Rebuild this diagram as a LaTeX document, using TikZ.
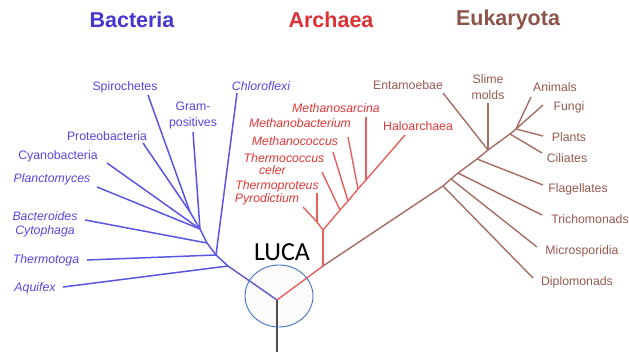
\documentclass[tikz,border=0pt]{standalone}
\usepackage{fontspec}
\setmainfont{Liberation Sans}
\newfontfamily\lucafont{Carlito}
\definecolor{bacline}{RGB}{90,85,228}
\definecolor{bactext}{RGB}{85,70,225}
\definecolor{bactitle}{RGB}{70,55,210}
\definecolor{arcline}{RGB}{230,95,95}
\definecolor{arctext}{RGB}{225,55,55}
\definecolor{arctitle}{RGB}{220,50,55}
\definecolor{eukline}{RGB}{165,110,100}
\definecolor{euktext}{RGB}{150,90,80}
\definecolor{euktitle}{RGB}{140,85,75}
\definecolor{lucablue}{RGB}{68,114,196}
\tikzset{
  bl/.style={draw=bacline, line width=1.5pt},
  al/.style={draw=arcline, line width=1.4pt},
  el/.style={draw=eukline, line width=1.4pt},
  lab/.style={inner sep=0pt, font=\fontsize{12.3}{13}\selectfont, align=center},
  ilab/.style={font=\fontsize{12.3}{13}\selectfont\itshape},
  blab/.style={lab, text=bactext},
  alab/.style={lab, text=arctext},
  elab/.style={lab, text=euktext},
  ttl/.style={inner sep=0pt, font=\fontsize{21.5}{24}\selectfont\bfseries},
}
\begin{document}
\begin{tikzpicture}[x=1pt,y=-1pt]
\useasboundingbox (0,0) rectangle (629,352);
% LUCA ellipse fill
\fill[gray!3] (279,296) ellipse [x radius=34, y radius=31];
% titles
\node[ttl, text=bactitle] (tB) at (132,20) {Bacteria};
\node[ttl, text=arctitle] (tA) at (331,20) {Archaea};
\node[ttl, text=euktitle] (tE) at (508,20) {Eukaryota};
\node[inner sep=0pt, font=\lucafont\fontsize{26}{28}\selectfont] (luca) at (282,252) {LUCA};
% junctions
\coordinate (R) at (277,300);
\coordinate (base) at (277,352);
\coordinate (bA) at (228,266);
\coordinate (bT) at (216,255);
\coordinate (bB) at (207,243);
\coordinate (bG) at (200,229);
\coordinate (bP) at (190,212);
\coordinate (aE) at (323,266);
\coordinate (aN) at (323,230);
\coordinate (aP) at (317,222);
\coordinate (a1) at (340,210);
\coordinate (a2) at (348,201);
\coordinate (a3) at (358,189);
\coordinate (a4) at (366,180);
\coordinate (e1) at (443,186);
\coordinate (e2) at (451,179);
\coordinate (e3) at (458,173);
\coordinate (e4) at (477,159);
\coordinate (e5) at (488,150);
\coordinate (e6) at (510,134);
\coordinate (e7) at (516,129);
% leaf ends
\coordinate (lAq) at (63,287);
\coordinate (lTh) at (87,260);
\coordinate (lBa) at (85,220);
\coordinate (lPl) at (97,187);
\coordinate (lCy) at (107,163);
\coordinate (lPr) at (143,143);
\coordinate (lSp) at (148,95);
\coordinate (lGr) at (193,132);
\coordinate (lCh) at (237,93);
\coordinate (lPy) at (303,207);
\coordinate (lTp) at (317,193);
\coordinate (lTc) at (322,172);
\coordinate (lMc) at (333,152);
\coordinate (lMb) at (348,137);
\coordinate (lMs) at (366,117);
\coordinate (lHa) at (405,135);
\coordinate (lDi) at (533,278);
\coordinate (lMi) at (537,247);
\coordinate (lTr) at (542,215);
\coordinate (lFl) at (543,185);
\coordinate (lCi) at (542,153);
\coordinate (lPa) at (543,136);
\coordinate (lFu) at (543,105);
\coordinate (lAn) at (531,97);
\coordinate (lSl) at (488,103);
\coordinate (lEn) at (443,93);
% trunk
\draw[draw=black!70, line width=1.6pt] (R) -- (base);
% bacteria
\draw[bl, draw=bacline!75!gray] (R) -- (bA);
\draw[bl] (bA) -- (bT) -- (bB) -- (bG) -- (bP);
\draw[bl] (bA) -- (lAq);
\draw[bl] (bT) -- (lTh);
\draw[bl] (bT) -- (lCh);
\draw[bl] (bB) -- (lBa);
\draw[bl] (bG) -- (lPl);
\draw[bl] (bG) -- (lCy);
\draw[bl] (bG) -- (lGr);
\draw[bl] (bP) -- (lPr);
\draw[bl] (bP) -- (lSp);
% archaea
\draw[al] (R) -- (aE);
\draw[al] (aE) -- (aN);
\draw[al] (aN) -- (aP) -- (lPy);
\draw[al] (aP) -- (lTp);
\draw[al] (aN) -- (a1) -- (a2) -- (a3) -- (a4) -- (lHa);
\draw[al] (a1) -- (lTc);
\draw[al] (a2) -- (lMc);
\draw[al] (a3) -- (lMb);
\draw[al] (a4) -- (lMs);
% eukaryota
\draw[el] (aE) -- (e1) -- (e2) -- (e3) -- (e4) -- (e5) -- (e6) -- (e7);
\draw[el] (e1) -- (lDi);
\draw[el] (e2) -- (lMi);
\draw[el] (e3) -- (lTr);
\draw[el] (e4) -- (lFl);
\draw[el] (e5) -- (lEn);
\draw[el] (e5) -- (lSl);
\draw[el] (e6) -- (lCi);
\draw[el] (e7) -- (lPa);
\draw[el] (e7) -- (lFu);
\draw[el] (e7) -- (lAn);
% ellipse border
\draw[lucablue, line width=0.9pt] (279,296) ellipse [x radius=34, y radius=31];
% bacteria labels
\node[blab, ilab] (nAq) at (35,288) {Aquifex};
\node[blab, ilab] (nTh) at (46,260) {Thermotoga};
\node[blab, font=\fontsize{12.3}{14}\selectfont\itshape] (nBa) at (45,224) {Bacteroides\\Cytophaga};
\node[blab, ilab] (nPl) at (52,179) {Planctomyces};
\node[blab] (nCy) at (58,156) {Cyanobacteria};
\node[blab] (nPr) at (107,136) {Proteobacteria};
\node[blab] (nSp) at (125,87) {Spirochetes};
\node[blab, font=\fontsize{12.3}{16}\selectfont] (nGr) at (193,115) {Gram-\\positives};
\node[blab, ilab] (nCh) at (261,86) {Chloroflexi};
% archaea labels
\node[alab, ilab] (nMs) at (336,108) {Methanosarcina};
\node[alab, ilab] (nMb) at (300,123) {Methanobacterium};
\node[alab, ilab] (nMc) at (295,141) {Methanococcus};
\node[alab, font=\fontsize{12.3}{11.5}\selectfont\itshape, align=left] (nTc) at (284,164) {Thermococcus\\\hspace*{1.25em}celer};
\node[alab, ilab] (nTp) at (277,186) {Thermoproteus};
\node[alab, ilab] (nPy) at (267,199) {Pyrodictium};
\node[alab] (nHa) at (418,126) {Haloarchaea};
% eukaryota labels
\node[elab] (nEn) at (408,85) {Entamoebae};
\node[elab, font=\fontsize{12.3}{16}\selectfont] (nSl) at (488,87) {Slime\\molds};
\node[elab] (nAn) at (555,87) {Animals};
\node[elab] (nFu) at (569,107) {Fungi};
\node[elab] (nPa) at (569,137) {Plants};
\node[elab] (nCi) at (567,158) {Ciliates};
\node[elab] (nFl) at (578,189) {Flagellates};
\node[elab] (nTr) at (590,219) {Trichomonads};
\node[elab] (nMi) at (582,251) {Microsporidia};
\node[elab] (nDi) at (577,282) {Diplomonads};
\end{tikzpicture}
\end{document}
